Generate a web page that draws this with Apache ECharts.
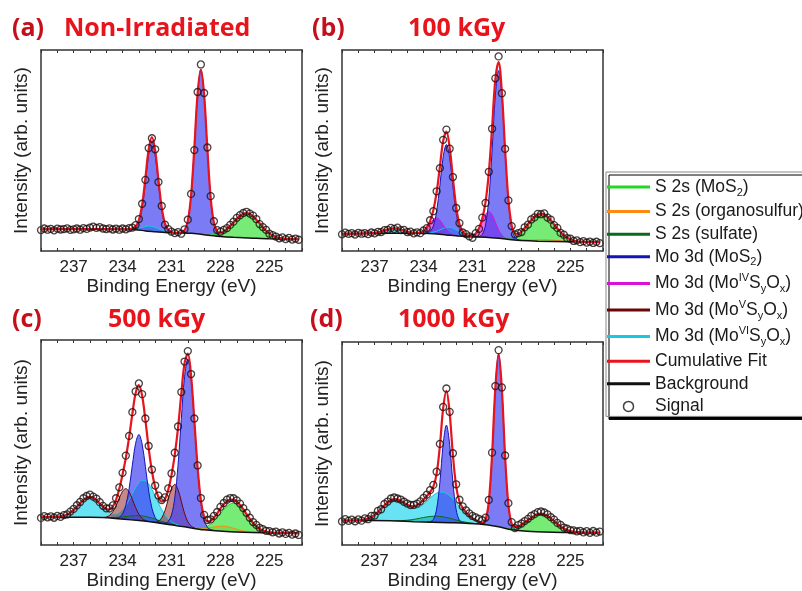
<!DOCTYPE html>
<html>
<head>
<meta charset="utf-8">
<script src="https://cdn.jsdelivr.net/npm/echarts@6/dist/echarts.min.js"></script>
<style>
  html, body { margin: 0; padding: 0; background: #fff; }
  #chart { width: 802px; height: 591px; }
</style>
</head>
<body>
<div id="chart"></div>
<script>
// binding energy grid of the measured signal, 239.0 -> 223.2 eV in 0.2 eV steps
const energy = Array.from({length: 80}, (_, k) => Math.round((239 - 0.2 * k) * 10) / 10);
const tickLabels = [225, 228, 231, 234, 237];

// ---------- (a) Non-Irradiated ----------
const aSignal = [10.4,
  11.2, 10.6, 11.0, 10.3, 11.1,
  10.7, 10.9, 11.3, 10.5, 10.8,
  11.2, 10.6, 11.4, 11.0, 11.6,
  12.1, 11.5, 11.9, 11.2, 10.9,
  11.3, 10.7, 11.1, 10.6, 11.2,
  10.8, 11.4, 11.6, 12.9, 15.9,
  23.5, 35.4, 51.2, 56.1, 50.6,
  34.3, 22.4, 13.1, 10.9, 9.6,
  8.9, 9.4, 8.6, 10.8, 15.6,
  28.4, 50.2, 79.1, 92.8, 78.6,
  51.5, 27.3, 14.8, 10.4, 9.6,
  10.5, 11.4, 13.0, 14.6, 16.5,
  17.8, 18.9, 19.5, 18.6, 17.6,
  15.9, 13.4, 11.9, 10.5, 8.6,
  7.9, 7.2, 6.3, 6.8, 5.9,
  6.5, 5.7, 6.2, 5.6];
const aBackground = [[239,10.8],[236,10.9],[234,10.8],[233.2,10.6],[232.6,10.0],[232,9.6],[231.4,9.2],[230.6,9.0],[229.8,8.8],[229.2,8.3],[228.6,7.7],[228,7.2],[227.2,6.8],[226,6.4],[225,6.1],[223.2,5.8]];
const aFit = [[239,10.8],[237,10.85],[235,10.85],[234,10.8],[233.6,10.9],[233.4,11.2],[233.2,12.2],[233.0,15.3],[232.8,22.9],[232.6,36.3],[232.4,50.5],[232.2,56.7],[232.0,49.9],[231.8,35.2],[231.6,21.6],[231.4,13.7],[231.2,10.5],[231.0,9.5],[230.8,9.05],[230.6,9.0],[230.4,9.2],[230.2,10.3],[230.0,14.9],[229.8,27.6],[229.6,51.4],[229.4,78.2],[229.2,90.3],[229.0,77.8],[228.8,50.6],[228.6,26.6],[228.4,14.1],[228.2,9.8],[228.0,9.1],[227.8,9.8],[227.6,11.0],[227.4,12.5],[227.2,14.3],[227.0,16.0],[226.8,17.4],[226.6,18.5],[226.4,18.8],[226.2,18.4],[226.0,17.2],[225.8,15.6],[225.6,13.8],[225.4,11.8],[225.2,10.1],[225.0,8.8],[224.8,7.8],[224.6,7.0],[224.4,6.5],[224.0,6.1],[223.2,5.8]];
const aS2sMoS2 = [[228.8,7.9],[228.4,8.1],[228.0,8.9],[227.6,11.0],[227.2,14.3],[226.8,17.4],[226.4,18.8],[226.0,17.2],[225.6,13.8],[225.2,10.1],[224.8,7.8],[224.4,6.5],[224.0,6.1],[223.6,5.9]];
const aMo3dMoS2 = [[233.8,10.8],[233.4,10.9],[233.2,11.6],[233.0,14.2],[232.8,21.3],[232.6,34.1],[232.4,48.0],[232.2,54.3],[232.0,47.7],[231.8,33.6],[231.6,20.5],[231.4,13.0],[231.2,10.1],[231.0,9.3],[230.8,9.05],[230.6,9.0],[230.4,9.2],[230.2,10.3],[230.0,14.9],[229.8,27.6],[229.6,51.4],[229.4,78.2],[229.2,90.3],[229.0,77.8],[228.8,50.6],[228.6,26.5],[228.4,13.6],[228.2,8.8],[228.0,7.4],[227.8,7.1]];
const aMo3dMoVI = [[233.8,10.8],[233.4,11.0],[233.2,11.3],[233.0,11.5],[232.8,11.8],[232.6,12.2],[232.4,12.4],[232.2,12.2],[232.0,11.8],[231.8,11.1],[231.6,10.5],[231.4,9.9],[231.2,9.5],[231.0,9.2],[230.8,9.05]];

// ---------- (b) 100 kGy ----------
const bSignal = [8.3,
  9.1, 8.5, 8.9, 8.2, 9.0,
  8.6, 8.9, 8.4, 9.2, 8.8,
  9.5, 9.4, 10.4, 10.5, 11.5,
  11.0, 11.6, 10.4, 10.5, 9.4,
  9.6, 8.8, 9.3, 8.9, 10.2,
  11.4, 15.3, 19.8, 29.7, 41.2,
  55.3, 60.4, 50.9, 36.8, 21.4,
  13.9, 9.2, 8.4, 7.3, 6.6,
  8.9, 11.0, 16.6, 23.9, 39.4,
  60.8, 85.9, 96.8, 78.5, 50.8,
  25.2, 12.4, 8.3, 8.9, 9.4,
  11.8, 13.1, 15.7, 16.7, 18.5,
  18.3, 18.7, 16.6, 15.6, 12.9,
  11.5, 9.0, 8.1, 6.4, 6.1,
  5.0, 5.3, 4.4, 4.9, 4.2,
  4.7, 4.0, 4.6, 3.9];
const bBackground = [[239,8.6],[236,8.8],[234,8.8],[233.4,8.6],[232.6,8.0],[231.8,7.4],[231,7.0],[230.2,6.8],[229.4,6.3],[228.6,5.6],[228,5.2],[227,4.9],[225,4.6],[223.2,4.4]];
const bFit = [[239,8.6],[238,8.67],[237.2,8.85],[237.0,8.96],[236.8,9.23],[236.6,9.63],[236.4,10.15],[236.2,10.7],[236.0,11.15],[235.8,11.3],[235.6,11.15],[235.4,10.72],[235.2,10.18],[235.0,9.67],[234.8,9.28],[234.6,9.03],[234.4,8.99],[234.2,9.19],[234.0,9.94],[233.8,11.74],[233.6,14.9],[233.4,20.26],[233.2,29.09],[233.0,41.86],[232.8,54.68],[232.6,59.36],[232.4,51.53],[232.2,36.11],[232.0,21.97],[231.8,13.43],[231.6,9.64],[231.4,8.15],[231.2,7.62],[231.0,7.73],[230.8,8.74],[230.6,11.36],[230.4,16.16],[230.2,24.37],[230.0,38.88],[229.8,61.42],[229.6,85.3],[229.4,94.03],[229.2,79.03],[229.0,50.22],[228.8,25.7],[228.6,12.83],[228.4,8.8],[228.2,8.56],[228.0,9.7],[227.8,11.44],[227.6,13.41],[227.4,15.32],[227.2,17.0],[227.0,18.2],[226.8,18.62],[226.6,18.24],[226.4,17.0],[226.2,15.28],[226.0,13.25],[225.8,11.17],[225.6,9.32],[225.4,7.81],[225.2,6.64],[225.0,5.83],[224.8,5.25],[224.6,4.86],[224.4,4.67],[224.0,4.5],[223.2,4.4]];
const bS2sMoS2 = [[229.2,6.3],[228.8,6.35],[228.4,7.2],[228.0,9.4],[227.6,13.0],[227.2,16.4],[226.8,17.9],[226.4,16.3],[226.0,12.7],[225.6,8.9],[225.2,6.4],[224.8,5.15],[224.4,4.7],[224.0,4.5]];
const bS2sOrgano = [[228.4,5.5],[227.6,5.5],[226.6,5.65],[225.6,5.1],[224.8,4.6]];
const bMo3dMoS2 = [[233.8,8.98],[233.6,9.68],[233.4,12.43],[233.2,19.7],[233.0,32.6],[232.8,46.75],[232.6,53.0],[232.4,46.45],[232.2,32.0],[232.0,18.8],[231.8,11.23],[231.6,8.25],[231.4,7.38],[231.2,7.1],[231.0,7.0],[230.8,6.98],[230.6,7.13],[230.4,8.27],[230.2,12.9],[230.0,25.9],[229.8,49.95],[229.6,77.4],[229.4,89.8],[229.2,77.1],[229.0,49.35],[228.8,24.98],[228.6,11.7],[228.4,6.89],[228.2,5.56],[228.0,5.2]];
const bMo3dMoIV = [[234.4,8.89],[234.2,9.15],[234.0,9.88],[233.8,11.4],[233.6,13.58],[233.4,15.66],[233.2,16.45],[233.0,15.36],[232.8,13.0],[232.6,10.6],[232.4,8.93],[232.2,8.05],[232.0,7.64],[231.8,7.4],[231.4,7.2],[231.2,7.25],[231.0,7.57],[230.8,8.71],[230.6,11.13],[230.4,14.74],[230.2,18.27],[230.0,19.68],[229.8,18.02],[229.6,14.32],[229.4,10.53],[229.2,7.89],[229.0,6.52],[228.8,5.93]];
const bMo3dMoVI = [[237.2,8.85],[237.0,8.97],[236.8,9.22],[236.6,9.6],[236.4,10.1],[236.2,10.6],[236.0,11.1],[235.8,11.3],[235.6,11.15],[235.4,10.7],[235.2,10.2],[235.0,9.7],[234.8,9.3],[234.6,9.0],[234.4,8.9],[234.2,8.85],[234.0,8.85],[233.8,8.96],[233.6,9.1],[233.4,9.37],[233.2,9.84],[233.0,10.5],[232.8,11.23],[232.6,11.76],[232.4,11.85],[232.2,11.46],[232.0,10.63],[231.8,9.6],[231.6,8.69],[231.4,7.97],[231.2,7.47],[231.0,7.16],[230.8,6.97]];

// ---------- (c) 500 kGy ----------
const cSignal = [13.2,
  14.1, 13.5, 14.0, 13.3, 14.2,
  13.7, 14.6, 14.9, 16.3, 17.6,
  19.4, 21.0, 22.8, 23.9, 24.6,
  23.6, 22.6, 20.9, 19.1, 17.9,
  17.9, 19.3, 22.8, 28.1, 35.2,
  43.6, 53.2, 64.8, 74.9, 78.8,
  73.6, 61.7, 48.3, 36.8, 29.0,
  24.1, 21.9, 23.2, 27.6, 34.9,
  45.0, 57.8, 74.6, 89.5, 94.6,
  83.4, 61.7, 38.8, 22.9, 14.7,
  12.2, 12.5, 14.2, 16.1, 18.6,
  20.5, 22.1, 22.9, 22.8, 21.8,
  20.2, 18.0, 15.7, 13.3, 11.2,
  9.8, 8.4, 7.7, 6.9, 6.8,
  6.2, 6.5, 5.6, 6.2, 5.4,
  5.9, 5.1, 5.6, 4.9];
const cBackground = [[239,13.6],[236,13.5],[234.6,13.1],[233,11.9],[231.4,10.3],[230.2,8.9],[229,7.4],[227.4,6.5],[225.4,6.0],[223.2,5.7]];
const cFit = [[239,13.6],[238.4,13.58],[238.0,13.74],[237.8,13.93],[237.6,14.28],[237.4,14.9],[237.2,15.84],[237.0,17.13],[236.8,18.73],[236.6,20.42],[236.4,22.01],[236.2,23.1],[236.0,23.5],[235.8,23.04],[235.6,21.89],[235.4,20.27],[235.2,18.74],[235.0,17.55],[234.8,17.34],[234.6,18.69],[234.4,22.06],[234.2,27.43],[234.0,34.43],[233.8,42.5],[233.6,52.43],[233.4,63.9],[233.2,74.01],[233.0,77.94],[232.8,72.77],[232.6,60.87],[232.4,47.28],[232.2,35.95],[232.0,28.18],[231.8,23.34],[231.6,21.19],[231.4,22.38],[231.2,26.89],[231.0,34.07],[230.8,44.01],[230.6,57.0],[230.4,73.71],[230.2,88.68],[230.0,93.35],[229.8,82.52],[229.6,60.81],[229.4,37.9],[229.2,22.01],[229.0,13.88],[228.8,11.49],[228.6,11.81],[228.4,13.34],[228.2,15.45],[228.0,17.74],[227.8,19.83],[227.6,21.31],[227.4,22.2],[227.2,22.18],[227.0,21.3],[226.8,19.55],[226.6,17.48],[226.4,15.09],[226.2,12.78],[226.0,10.79],[225.8,9.1],[225.6,7.95],[225.4,7.1],[225.2,6.59],[225.0,6.27],[224.8,6.07],[224.4,5.87],[224.0,5.81],[223.2,5.7]];
const cS2sMoS2 = [[229.6,8.3],[229.2,8.27],[228.8,9.19],[228.4,11.61],[228.0,15.34],[227.6,18.91],[227.2,20.45],[226.8,18.65],[226.4,14.75],[226.0,10.7],[225.6,7.95],[225.2,6.59],[224.8,6.07]];
const cS2sOrgano = [[229.8,8.44],[229.4,8.08],[229.0,7.98],[228.6,8.48],[228.2,9.05],[227.8,9.23],[227.4,8.6],[227.0,7.7],[226.6,6.88],[226.2,6.38],[225.8,6.14]];
const cS2sSulfate = [[235.2,13.34],[234.8,13.37],[234.4,13.47],[234.0,13.68],[233.6,14.03],[233.2,14.31],[232.8,14.2],[232.4,13.56],[232.0,12.58],[231.6,11.53],[231.2,10.59],[230.8,9.81],[230.4,9.2]];
const cMo3dMoS2 = [[234.4,13.11],[234.2,13.51],[234.0,15.13],[233.8,19.35],[233.6,27.45],[233.4,38.9],[233.2,49.55],[233.0,53.9],[232.8,49.2],[232.6,38.2],[232.4,26.4],[232.2,17.95],[232.0,13.38],[231.8,11.41],[231.6,10.66],[231.4,10.63],[231.2,11.47],[231.0,14.63],[230.8,23.0],[230.6,38.87],[230.4,61.33],[230.2,82.1],[230.0,90.65],[229.8,81.6],[229.6,60.35],[229.4,37.4],[229.2,21.05],[229.0,12.2],[228.8,8.69],[228.6,7.51],[228.4,7.06]];
const cMo3dMoV = [[235.2,13.39],[235.0,13.64],[234.8,14.43],[234.6,16.2],[234.4,19.15],[234.2,22.9],[234.0,26.25],[233.8,27.5],[233.6,25.95],[233.4,22.3],[233.2,18.25],[233.0,15.0],[232.8,12.97],[232.6,11.93],[232.4,11.42],[232.2,11.1],[232.0,11.12],[231.8,11.58],[231.6,13.2],[231.4,16.8],[231.2,22.27],[231.0,27.43],[230.8,29.6],[230.6,26.97],[230.4,21.33],[230.2,15.4],[230.0,11.35],[229.8,9.28],[229.6,8.37],[229.4,7.9]];
const cMo3dMoVI = [[238.2,13.58],[238.0,13.74],[237.8,13.93],[237.6,14.28],[237.4,14.9],[237.2,15.84],[237.0,17.13],[236.8,18.73],[236.6,20.42],[236.4,22.01],[236.2,23.1],[236.0,23.5],[235.8,23.04],[235.6,21.89],[235.4,20.23],[235.2,18.55],[235.0,16.99],[234.8,15.86],[234.6,15.25],[234.4,15.18],[234.2,15.87],[234.0,17.32],[233.8,19.3],[233.6,22.05],[233.4,25.1],[233.2,28.05],[233.0,30.4],[232.8,31.5],[232.6,31.3],[232.4,29.8],[232.2,27.1],[232.0,23.8],[231.8,20.4],[231.6,17.3],[231.4,14.8],[231.2,12.77],[231.0,11.33],[230.8,10.4],[230.6,9.77],[230.4,9.31],[230.2,8.98]];

// ---------- (d) 1000 kGy ----------
const dSignal = [11.6,
  12.7, 11.9, 12.5, 11.7, 12.6,
  12.0, 13.1, 12.7, 14.3, 14.5,
  16.8, 17.6, 20.2, 21.4, 22.9,
  23.4, 22.9, 22.4, 21.3, 20.4,
  19.7, 19.8, 20.4, 21.5, 23.2,
  24.8, 27.0, 29.6, 36.1, 49.8,
  68.0, 77.1, 65.6, 45.2, 29.9,
  22.3, 19.0, 17.1, 15.6, 14.3,
  13.6, 12.9, 12.2, 13.5, 22.2,
  45.5, 78.3, 96.0, 77.6, 44.1,
  20.6, 11.3, 8.3, 9.8, 10.6,
  11.8, 12.9, 14.3, 15.2, 16.2,
  16.5, 16.0, 15.1, 13.7, 12.5,
  10.9, 9.9, 8.6, 8.0, 7.3,
  7.2, 6.7, 7.0, 6.2, 6.8,
  6.0, 6.9, 6.1, 6.6];
const dBackground = [[239,12.1],[236,11.9],[234.6,11.5],[232.4,11.0],[230.6,10.3],[229.4,9.0],[228.6,7.5],[227.4,6.6],[225.4,6.2],[223.2,6.1]];
const dFit = [[239,12.1],[238.4,12.06],[238.0,12.17],[237.8,12.32],[237.6,12.59],[237.4,13.06],[237.2,13.82],[237.0,14.87],[236.8,16.26],[236.6,17.9],[236.4,19.53],[236.2,21.02],[236.0,22.12],[235.8,22.66],[235.6,22.46],[235.4,21.76],[235.2,20.75],[235.0,19.8],[234.8,19.15],[234.6,19.07],[234.4,19.62],[234.2,20.73],[234.0,22.31],[233.8,24.12],[233.6,26.1],[233.4,28.76],[233.2,35.03],[233.0,48.7],[232.8,67.18],[232.6,75.9],[232.4,64.81],[232.2,44.17],[232.0,28.8],[231.8,21.44],[231.6,18.14],[231.4,16.07],[231.2,14.48],[231.0,13.19],[230.8,12.2],[230.6,11.47],[230.4,11.08],[230.2,12.67],[230.0,21.37],[229.8,44.45],[229.6,77.22],[229.4,94.0],[229.2,76.73],[229.0,43.35],[228.8,19.78],[228.6,10.62],[228.4,8.91],[228.2,9.14],[228.0,9.98],[227.8,11.02],[227.6,12.24],[227.4,13.4],[227.2,14.48],[227.0,15.25],[226.8,15.48],[226.6,15.17],[226.4,14.32],[226.2,13.16],[226.0,11.81],[225.8,10.4],[225.6,9.17],[225.4,8.14],[225.2,7.41],[225.0,6.9],[224.8,6.57],[224.6,6.36],[224.4,6.25],[224.0,6.14],[223.2,6.1]];
const dS2sMoS2 = [[229.2,8.73],[229.0,8.45],[228.8,8.28],[228.6,8.22],[228.4,8.57],[228.2,9.14],[228.0,9.98],[227.8,11.02],[227.6,12.24],[227.4,13.4],[227.2,14.48],[227.0,15.25],[226.8,15.48],[226.6,15.17],[226.4,14.32],[226.2,13.16],[226.0,11.81],[225.8,10.4],[225.6,9.17],[225.4,8.14],[225.2,7.41],[225.0,6.9],[224.8,6.57],[224.6,6.36],[224.4,6.25],[224.2,6.2]];
const dS2sSulfate = [[235.8,11.94],[235.6,11.96],[235.4,12.0],[235.2,12.08],[235.0,12.2],[234.8,12.39],[234.6,12.63],[234.4,12.91],[234.2,13.23],[234.0,13.54],[233.8,13.82],[233.6,14.04],[233.4,14.17],[233.2,14.18],[233.0,14.08],[232.8,13.86],[232.6,13.55],[232.4,13.18],[232.2,12.74],[232.0,12.3],[231.8,11.9],[231.6,11.52],[231.4,11.2],[231.2,10.94],[231.0,10.73],[230.8,10.55],[230.6,10.4]];
const dMo3dMoS2 = [[233.8,11.32],[233.6,11.46],[233.4,12.59],[233.2,17.68],[233.0,30.84],[232.8,49.49],[232.6,59.05],[232.4,49.4],[232.2,30.62],[232.0,17.34],[231.8,12.13],[231.6,10.88],[231.4,10.61],[231.0,10.46],[230.6,10.3],[230.4,10.42],[230.2,12.27],[230.0,21.15],[229.8,44.33],[229.6,77.22],[229.4,94.0],[229.2,76.63],[229.0,43.15],[228.8,19.38],[228.6,9.9],[228.4,7.69],[228.2,7.2]];
const dMo3dMoVI = [[238.2,12.1],[238.0,12.17],[237.8,12.32],[237.6,12.59],[237.4,13.06],[237.2,13.82],[237.0,14.87],[236.8,16.26],[236.6,17.9],[236.4,19.53],[236.2,21.02],[236.0,22.12],[235.8,22.56],[235.6,22.29],[235.4,21.49],[235.2,20.34],[235.0,19.21],[234.8,18.32],[234.6,17.94],[234.4,18.16],[234.2,18.91],[234.0,20.13],[233.8,21.62],[233.6,23.14],[233.4,24.46],[233.2,25.53],[233.0,26.06],[232.8,26.01],[232.6,25.4],[232.4,24.23],[232.2,22.65],[232.0,20.84],[231.8,18.95],[231.6,17.12],[231.4,15.48],[231.2,14.07],[231.0,12.92],[230.8,12.03],[230.6,11.37],[230.4,10.74],[230.2,10.27],[230.0,9.87],[229.8,9.55]];

// legend entries: series name -> rich text label
const legendNames = ['S 2s (MoS2)', 'S 2s (organosulfur)', 'S 2s (sulfate)', 'Mo 3d (MoS2)',
  'Mo 3d (MoIVSyOx)', 'Mo 3d (MoVSyOx)', 'Mo 3d (MoVISyOx)', 'Cumulative Fit', 'Background', 'Signal'];
const legendLabels = {
  'S 2s (MoS2)': 'S 2s (MoS{sub|2})',
  'S 2s (organosulfur)': 'S 2s (organosulfur)',
  'S 2s (sulfate)': 'S 2s (sulfate)',
  'Mo 3d (MoS2)': 'Mo 3d (MoS{sub|2})',
  'Mo 3d (MoIVSyOx)': 'Mo 3d (Mo{sup|IV}S{sub|y}O{sub|x})',
  'Mo 3d (MoVSyOx)': 'Mo 3d (Mo{sup|V}S{sub|y}O{sub|x})',
  'Mo 3d (MoVISyOx)': 'Mo 3d (Mo{sup|VI}S{sub|y}O{sub|x})',
  'Cumulative Fit': 'Cumulative Fit',
  'Background': 'Background',
  'Signal': 'Signal'
};

// line colour, fill colour
const partColors = {
  'S 2s (MoS2)': ['#22d822', 'rgba(60,228,60,0.7)'],
  'S 2s (organosulfur)': ['#ff8a10', 'rgba(255,150,30,0.55)'],
  'S 2s (sulfate)': ['#0b6a1a', 'rgba(20,110,50,0.75)'],
  'Mo 3d (MoS2)': ['#1414b8', 'rgba(60,60,240,0.68)'],
  'Mo 3d (MoIVSyOx)': ['#d812d8', 'rgba(225,40,225,0.7)'],
  'Mo 3d (MoVSyOx)': ['#6a0606', 'rgba(150,40,40,0.55)'],
  'Mo 3d (MoVISyOx)': ['#18c8dc', 'rgba(40,215,240,0.7)']
};
const fitColor = '#e8141c';
const bgColor = '#111';

const panels = [
  {box: {left: 41, top: 50, width: 261, height: 201}, signal: aSignal, fit: aFit, background: aBackground,
   parts: [['Mo 3d (MoVISyOx)', aMo3dMoVI], ['S 2s (MoS2)', aS2sMoS2], ['Mo 3d (MoS2)', aMo3dMoS2]]},
  {box: {left: 342, top: 50, width: 261, height: 201}, signal: bSignal, fit: bFit, background: bBackground,
   parts: [['S 2s (organosulfur)', bS2sOrgano], ['Mo 3d (MoVISyOx)', bMo3dMoVI], ['Mo 3d (MoIVSyOx)', bMo3dMoIV],
           ['S 2s (MoS2)', bS2sMoS2], ['Mo 3d (MoS2)', bMo3dMoS2]]},
  {box: {left: 41, top: 340, width: 261, height: 205}, signal: cSignal, fit: cFit, background: cBackground,
   parts: [['S 2s (sulfate)', cS2sSulfate], ['S 2s (organosulfur)', cS2sOrgano], ['Mo 3d (MoVISyOx)', cMo3dMoVI],
           ['Mo 3d (MoVSyOx)', cMo3dMoV], ['S 2s (MoS2)', cS2sMoS2], ['Mo 3d (MoS2)', cMo3dMoS2]]},
  {box: {left: 342, top: 342, width: 261, height: 203}, signal: dSignal, fit: dFit, background: dBackground,
   parts: [['S 2s (sulfate)', dS2sSulfate], ['Mo 3d (MoVISyOx)', dMo3dMoVI],
           ['S 2s (MoS2)', dS2sMoS2], ['Mo 3d (MoS2)', dMo3dMoS2]]}
];

const font = 'Liberation Sans, Arial, sans-serif';
const frame = {show: true, onZero: false, lineStyle: {color: '#333', width: 1.5}};

const grids = [], xAxes = [], yAxes = [], series = [];
panels.forEach((p, i) => {
  grids.push(Object.assign({containLabel: false}, p.box));
  xAxes.push({
    type: 'value', gridIndex: i, position: 'bottom', inverse: true, min: 223, max: 239, interval: 1,
    axisLine: frame, splitLine: {show: false},
    axisTick: {inside: true, length: 3, lineStyle: {color: '#333'}},
    axisLabel: {margin: 8, fontSize: 17, color: '#222', fontFamily: font,
      formatter: v => tickLabels.indexOf(v) >= 0 ? String(v) : ''},
    name: 'Binding Energy (eV)', nameLocation: 'middle', nameGap: 23,
    nameTextStyle: {fontSize: 19, color: '#222', fontFamily: font}, z: 10
  });
  xAxes.push({
    type: 'value', gridIndex: i, position: 'top', inverse: true, min: 223, max: 239, interval: 1,
    axisLine: frame, splitLine: {show: false}, axisLabel: {show: false},
    axisTick: {inside: true, length: 3, lineStyle: {color: '#333'}}, z: 10
  });
  yAxes.push({
    type: 'value', gridIndex: i, position: 'left', min: 0, max: 100,
    axisLine: frame, axisTick: {show: false}, axisLabel: {show: false}, splitLine: {show: false},
    name: 'Intensity (arb. units)', nameLocation: 'middle', nameGap: 10,
    nameTextStyle: {fontSize: 19, color: '#222', fontFamily: font}, z: 10
  });
  yAxes.push({
    type: 'value', gridIndex: i, position: 'right', min: 0, max: 100,
    axisLine: frame, axisTick: {show: false}, axisLabel: {show: false}, splitLine: {show: false}, z: 10
  });

  const xi = 2 * i, yi = 2 * i;
  p.parts.forEach(([name, data]) => {
    const c = partColors[name];
    series.push({
      type: 'line', name, data, xAxisIndex: xi, yAxisIndex: yi, smooth: 0.35, symbol: 'none', silent: true,
      lineStyle: {color: c[0], width: 1}, itemStyle: {color: c[0]},
      areaStyle: {color: c[1], opacity: 1, origin: 'start'}, z: 2
    });
  });
  // background: white fill below hides the component fills under it
  series.push({
    type: 'line', name: 'Background', data: p.background, xAxisIndex: xi, yAxisIndex: yi,
    smooth: 0.3, symbol: 'none', silent: true,
    lineStyle: {color: bgColor, width: 1.5}, itemStyle: {color: bgColor},
    areaStyle: {color: '#fff', opacity: 1, origin: 'start'}, z: 3
  });
  series.push({
    type: 'line', name: 'Cumulative Fit', data: p.fit, xAxisIndex: xi, yAxisIndex: yi,
    smooth: 0.35, symbol: 'none', silent: true,
    lineStyle: {color: fitColor, width: 2.2}, itemStyle: {color: fitColor}, z: 4
  });
  series.push({
    type: 'scatter', name: 'Signal', data: energy.map((e, k) => [e, p.signal[k]]),
    xAxisIndex: xi, yAxisIndex: yi, symbol: 'circle', symbolSize: 7, silent: true,
    itemStyle: {color: 'rgba(255,255,255,0)', borderColor: '#1e1212', borderWidth: 1.3}, z: 5
  });
});

const lineIcon = 'path://M0,0L0,0.01M0,3.5L43,3.5L43,6.5L0,6.5ZM43,10L43,9.99';
const legendData = legendNames.map(n => {
  if (n === 'Signal') {
    return {name: n, icon: 'circle', itemStyle: {color: '#fff', borderColor: '#111', borderWidth: 1.5}};
  }
  const col = n === 'Cumulative Fit' ? fitColor : n === 'Background' ? bgColor : partColors[n][0];
  return {name: n, icon: lineIcon, itemStyle: {color: col, borderWidth: 0}};
});

const tDark = {fontFamily: 'Open Sans', fontWeight: 'bold', fontSize: 25, color: '#c4101c'};
const tRed = {fontFamily: 'Open Sans', fontWeight: 'bold', fontSize: 25, color: '#e8141c'};

const chart = echarts.init(document.getElementById('chart'), null, {renderer: 'canvas'});
chart.setOption({
  animation: false,
  backgroundColor: '#fff',
  title: [
    {text: '(a)', left: 12, top: 16, padding: 0, textStyle: tDark},
    {text: 'Non-Irradiated', left: 64, top: 16, padding: 0, textStyle: tRed},
    {text: '(b)', left: 312, top: 16, padding: 0, textStyle: tDark},
    {text: '100 kGy', left: 408, top: 16, padding: 0, textStyle: tRed},
    {text: '(c)', left: 12, top: 307, padding: 0, textStyle: tDark},
    {text: '500 kGy', left: 108, top: 307, padding: 0, textStyle: tRed},
    {text: '(d)', left: 310, top: 307, padding: 0, textStyle: tDark},
    {text: '1000 kGy', left: 398, top: 307, padding: 0, textStyle: tRed}
  ],
  legend: {
    orient: 'vertical', left: 606, top: 172, padding: [6, 4, 1, 1], itemGap: 4.6,
    itemWidth: 43, itemHeight: 10, selectedMode: false,
    backgroundColor: '#fff', borderColor: '#888', borderWidth: 1,
    shadowColor: '#000', shadowBlur: 0, shadowOffsetX: 3, shadowOffsetY: 3,
    data: legendData,
    formatter: n => legendLabels[n],
    textStyle: {
      fontFamily: font, fontSize: 17.5, color: '#1a1a1a',
      rich: {
        sub: {fontFamily: font, fontSize: 11, color: '#1a1a1a', padding: [11, 0, 0, 0]},
        sup: {fontFamily: font, fontSize: 11, color: '#1a1a1a', padding: [0, 0, 11, 0]}
      }
    }
  },
  grid: grids,
  xAxis: xAxes,
  yAxis: yAxes,
  series: series
});
</script>
</body>
</html>
